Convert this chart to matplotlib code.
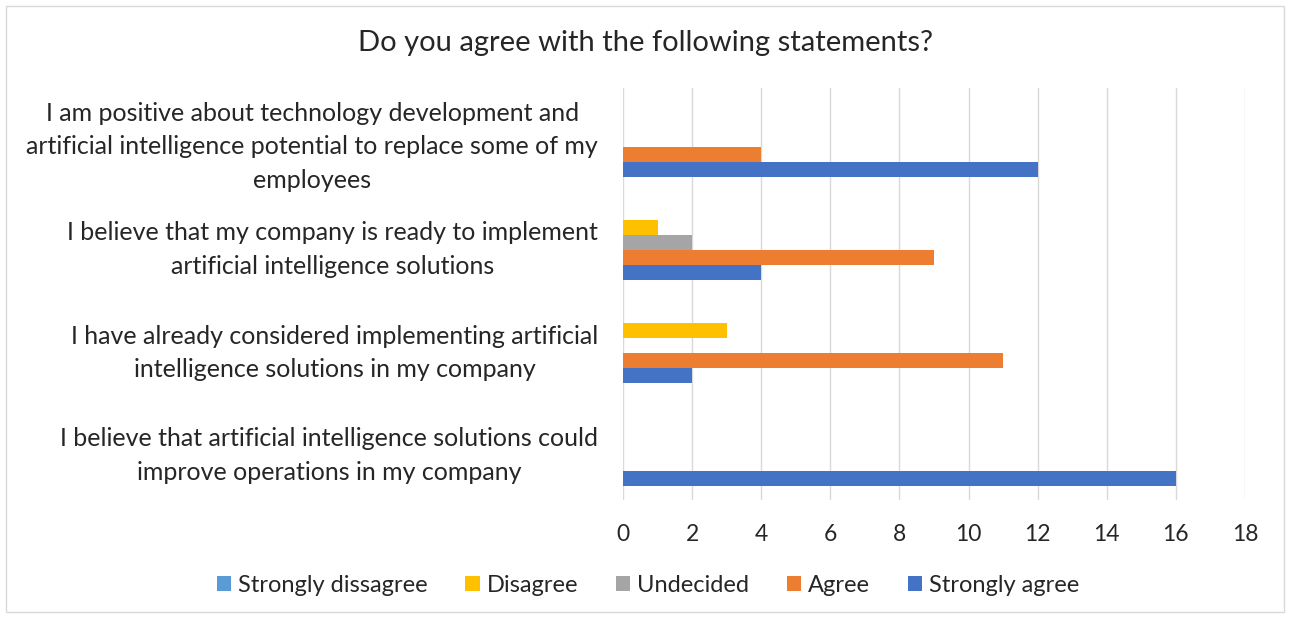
import matplotlib
matplotlib.use("Agg")
import matplotlib.pyplot as plt
import numpy as np
from matplotlib.patches import Rectangle

plt.rcParams['font.family'] = ['Lato', 'DejaVu Sans']

statements = [
    "I am positive about technology development and\nartificial intelligence potential to replace some of my\nemployees",
    "I believe that my company is ready to implement\nartificial intelligence solutions",
    "I have already considered implementing artificial\nintelligence solutions in my company",
    "I believe that artificial intelligence solutions could\nimprove operations in my company",
]
series_names = ["Strongly dissagree", "Disagree", "Undecided", "Agree", "Strongly agree"]
strongly_disagree = [0, 0, 0, 0]
disagree = [0, 1, 3, 0]
undecided = [0, 2, 0, 0]
agree = [4, 9, 11, 0]
strongly_agree = [12, 4, 2, 16]
colors = ["#5B9BD5", "#FFC000", "#A5A5A5", "#ED7D31", "#4472C4"]
x_ticks = list(range(0, 19, 2))

W, H = 1291, 618
fig = plt.figure(figsize=(W / 100, H / 100), dpi=100)
ax = fig.add_axes([623 / W, 1 - 500 / H, (1245 - 623) / W, (500 - 88) / H])

values = [strongly_disagree, disagree, undecided, agree, strongly_agree]
ypos = np.arange(len(statements))
h = 0.146
for k, (name, vals, c) in enumerate(zip(series_names, values, colors)):
    ax.barh(ypos + (k - 2) * h, vals, height=h, color=c, label=name, zorder=3)

ax.set_xlim(0, 18)
ax.set_ylim(len(statements) - 0.5, -0.5)
ax.set_xticks(x_ticks)
ax.set_xticklabels([str(t) for t in x_ticks], fontsize=16.5)
ax.set_yticks(ypos)
ax.set_yticklabels(statements, fontsize=18, linespacing=1.55)
for lbl in ax.get_yticklabels():
    lbl.set_multialignment('center')
ax.tick_params(axis='x', length=0, pad=17)
ax.tick_params(axis='y', length=0, pad=18)
for lbl in ax.get_xticklabels() + ax.get_yticklabels():
    lbl.set_color('#262626')
ax.grid(axis='x', color='#D9D9D9', linewidth=1, zorder=0)
for s in ax.spines.values():
    s.set_visible(False)

fig.text(0.5, 1 - 43 / H, "Do you agree with the following statements?",
         ha='center', va='center', fontsize=21, color='#262626')

fig.legend(loc='center', bbox_to_anchor=(0.502, 1 - 585 / H), ncol=5, frameon=False,
           fontsize=17, handlelength=0.6, handleheight=0.6, handletextpad=0.3,
           columnspacing=1.6, labelcolor='#262626')

fig.patches.append(Rectangle((6 / W, 6 / H), (1278 / W), (606 / H), transform=fig.transFigure,
                             fill=False, edgecolor='#D9D9D9', linewidth=1))

fig.savefig("out.png", dpi=100)
